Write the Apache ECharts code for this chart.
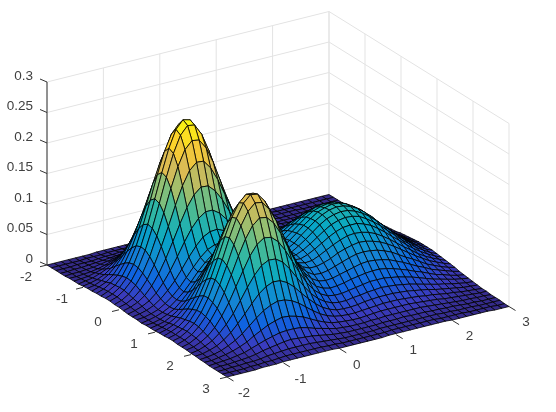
<!DOCTYPE html>
<html><head><meta charset="utf-8">
<script src="https://cdn.jsdelivr.net/npm/echarts@6/dist/echarts.min.js"></script>
<style>html,body{margin:0;padding:0;background:#fff}#chart{width:556px;height:412px}</style>
</head><body><div id="chart"></div>
<script>
// tick labels
var xTicks = [-2, -1, 0, 1, 2, 3];
var yTicks = [-2, -1, 0, 1, 2, 3];
var zTicks = ['0', '0.05', '0.1', '0.15', '0.2', '0.25', '0.3'];

// surface heights, in thousandths
// one row per y (-2 to 3), one column per x (-2 to 3), step 0.125
var zRows = [
[0,0,0,0,0,0,0,1,1,1,1,1,1,1,1,1,1,0,0,0,0,0,0,0,0,0,0,0,0,0,0,0,0,0,0,0,0,0,0,0,0],
[0,0,0,0,0,1,1,1,2,2,2,2,2,2,2,1,1,1,1,1,1,1,1,1,1,1,1,1,1,1,1,1,0,0,0,0,0,0,0,0,0],
[0,0,0,1,1,1,2,3,3,4,4,5,4,4,4,3,2,2,1,1,1,1,1,1,1,1,1,1,1,1,1,1,1,1,1,0,0,0,0,0,0],
[0,0,1,1,2,3,4,5,6,8,9,9,9,8,7,6,5,4,3,2,2,2,1,1,2,2,2,2,2,2,2,1,1,1,1,1,1,1,0,0,0],
[0,1,1,2,3,5,7,9,12,14,16,17,17,16,14,11,9,7,5,4,3,2,2,2,2,3,3,3,3,3,2,2,2,2,1,1,1,1,1,0,0],
[1,1,2,3,5,8,12,17,21,25,28,30,29,27,24,20,15,12,8,6,5,4,4,4,4,4,4,4,4,4,4,3,3,3,2,2,2,1,1,1,1],
[1,2,3,6,9,14,20,27,35,42,47,49,49,45,39,32,25,19,14,10,7,6,6,5,6,6,6,6,6,6,5,5,5,4,3,3,2,2,1,1,1],
[1,3,5,9,14,22,31,42,54,64,72,76,75,70,61,50,39,29,21,15,11,9,8,8,8,8,9,9,9,8,8,7,7,6,5,4,3,3,2,1,1],
[2,4,7,12,20,31,45,61,78,93,105,110,109,101,88,73,56,42,30,22,16,13,12,11,11,12,12,12,12,12,11,10,9,8,7,6,5,4,3,2,2],
[3,5,10,17,28,42,61,83,106,126,142,149,147,137,120,98,77,57,41,30,22,18,16,15,16,16,17,17,17,16,15,14,13,11,9,8,6,5,4,3,2],
[3,7,12,21,35,54,78,106,135,161,181,190,188,175,153,126,98,73,53,38,29,23,21,21,21,22,23,23,23,22,21,19,17,15,13,10,8,7,5,4,3],
[4,8,15,25,42,64,93,126,161,192,216,227,224,208,182,150,117,88,64,47,35,29,27,27,28,29,30,30,30,29,27,25,22,19,17,14,11,9,7,5,4],
[4,9,16,28,47,72,104,141,180,215,241,254,251,233,204,168,132,99,73,54,42,36,34,34,35,37,38,38,38,37,35,32,29,25,21,18,14,11,9,6,5],
[5,9,17,30,49,75,109,148,188,225,253,266,263,245,215,177,140,106,79,60,48,42,41,41,43,46,47,48,47,46,43,40,36,31,26,22,18,14,11,8,6],
[5,9,17,29,48,74,107,145,185,221,248,261,259,241,212,176,139,107,81,64,53,48,48,50,53,55,58,58,58,56,53,48,43,38,32,27,22,17,13,10,7],
[4,8,15,27,44,68,99,134,171,204,229,241,239,223,197,164,132,103,80,65,57,54,55,58,62,66,68,69,69,66,63,58,52,45,38,32,26,20,16,12,8],
[4,7,13,23,38,59,86,116,148,177,199,210,209,195,173,146,118,94,76,65,60,59,62,67,72,76,79,81,80,77,73,67,60,52,44,37,30,23,18,13,10],
[3,6,11,19,32,49,71,96,122,146,164,174,173,162,145,123,102,84,71,64,62,64,69,75,81,86,90,91,90,87,82,76,68,59,50,42,34,27,20,15,11],
[2,5,9,15,25,39,56,76,97,116,130,138,138,130,117,102,86,74,66,63,64,68,75,82,89,95,99,101,100,97,91,84,75,65,56,46,37,29,23,17,12],
[2,4,7,12,20,31,44,60,77,92,104,110,111,106,96,85,74,66,62,62,65,72,80,88,96,102,107,109,108,104,98,90,81,71,60,50,40,32,24,18,13],
[2,3,6,10,17,26,37,51,65,78,88,93,94,90,83,75,67,62,60,62,67,74,83,92,101,108,112,114,114,110,103,95,85,74,63,52,42,33,26,19,14],
[1,3,6,10,16,25,35,48,62,74,84,89,90,86,80,72,65,61,60,62,68,76,85,95,103,111,115,118,117,113,106,98,87,76,65,54,44,34,26,20,14],
[2,3,6,11,17,27,39,53,67,81,91,97,98,94,86,78,69,64,62,64,69,76,86,95,104,111,116,118,117,113,107,98,88,76,65,54,44,34,26,20,14],
[2,4,7,13,21,32,47,63,81,97,109,116,117,111,101,89,78,70,66,66,69,76,84,93,102,109,113,115,114,110,104,96,86,75,64,53,43,34,26,19,14],
[2,5,9,16,26,40,57,78,99,119,134,142,142,134,121,105,90,78,70,67,69,74,81,89,97,104,108,110,109,106,99,91,82,71,61,50,41,32,25,18,13],
[3,6,11,19,31,47,69,93,119,142,160,169,169,159,142,122,102,85,74,68,67,71,77,84,91,97,101,102,102,98,93,85,76,66,57,47,38,30,23,17,12],
[3,7,12,21,35,54,78,106,136,162,182,193,192,180,160,136,112,91,76,68,65,66,71,77,83,88,92,93,92,89,84,77,69,60,51,43,34,27,21,16,11],
[4,7,13,23,38,59,85,115,147,176,197,208,207,194,172,145,118,94,77,66,61,61,64,68,74,78,81,83,82,79,75,69,62,54,46,38,31,24,19,14,10],
[4,7,14,24,39,60,87,117,150,179,201,212,210,196,174,146,117,93,74,62,55,54,56,60,64,68,71,72,71,69,65,60,53,46,40,33,26,21,16,12,9],
[3,7,13,23,37,57,83,112,143,171,192,203,201,187,165,138,111,87,68,56,49,47,48,51,54,57,60,61,60,58,55,50,45,39,33,28,22,18,14,10,7],
[3,6,12,20,34,52,75,101,129,154,173,183,181,169,149,124,99,77,60,48,42,39,40,42,45,47,49,50,50,48,45,41,37,32,28,23,18,15,11,8,6],
[3,5,10,17,28,44,63,86,109,131,147,155,153,143,126,105,84,65,50,40,34,32,32,34,36,38,40,40,40,38,36,33,30,26,22,18,15,12,9,7,5],
[2,4,8,14,23,35,50,68,87,104,117,123,122,114,100,83,66,51,40,32,27,25,25,27,28,30,31,32,31,30,28,26,23,20,17,14,12,9,7,5,4],
[2,3,6,10,17,26,38,51,65,78,87,92,91,85,75,62,50,39,30,24,20,19,19,20,22,23,24,24,24,23,22,20,18,16,13,11,9,7,5,4,3],
[1,2,4,7,12,18,26,36,46,55,61,65,64,60,53,44,35,27,21,17,15,14,14,15,16,17,18,18,18,17,16,15,13,12,10,8,7,5,4,3,2],
[1,1,3,5,8,12,17,24,30,36,40,43,42,39,35,29,23,18,14,12,11,10,10,11,12,13,13,13,13,13,12,11,10,9,7,6,5,4,3,2,2],
[0,1,2,3,5,7,11,15,19,22,25,26,26,25,22,18,15,12,9,8,7,7,7,8,8,9,9,9,9,9,9,8,7,6,5,4,3,3,2,2,1],
[0,1,1,2,3,4,6,9,11,13,15,16,15,14,13,11,9,7,6,5,5,5,5,5,6,6,6,7,6,6,6,5,5,4,4,3,2,2,1,1,1],
[0,0,1,1,2,2,3,5,6,7,8,8,8,8,7,6,5,4,3,3,3,3,3,4,4,4,4,4,4,4,4,4,3,3,2,2,2,1,1,1,1],
[0,0,0,0,1,1,2,2,3,4,4,4,4,4,4,3,3,2,2,2,2,2,2,2,3,3,3,3,3,3,3,2,2,2,2,1,1,1,1,0,0],
[0,0,0,0,0,1,1,1,2,2,2,2,2,2,2,2,1,1,1,1,1,1,1,2,2,2,2,2,2,2,2,2,1,1,1,1,1,1,0,0,0]
];

// parula-like colour ramp
var colorStops = [0, .05, .14, .25, .375, .5, .625, .75, .875, 1];
var colorRamp = ['#352a87', '#3a3cc0', '#0f62e0', '#1485d4', '#06a7c6', '#38b99e', '#92bf73', '#d9ba56', '#fcce2e', '#f9fb0e'];

var N = zRows.length;
var ZMAX = 0.266;

// orthographic view, fitted to the corners of the box
function project(x, y, z) {
  return [47 + (x + 2) / 5 * 282 + (y + 2) / 5 * 180,
          265 - (x + 2) / 5 * 70.5 + (y + 2) / 5 * 112 - z / 0.3 * 183];
}

function hex(c) {
  return [parseInt(c.substr(1, 2), 16), parseInt(c.substr(3, 2), 16), parseInt(c.substr(5, 2), 16)];
}

function colorOf(z) {
  var t = Math.min(1, z / ZMAX), k = 0;
  while (k < colorStops.length - 2 && t > colorStops[k + 1]) k++;
  var f = (t - colorStops[k]) / (colorStops[k + 1] - colorStops[k]);
  var a = hex(colorRamp[k]), b = hex(colorRamp[k + 1]);
  return 'rgb(' + Math.round(a[0] + (b[0] - a[0]) * f) + ',' +
    Math.round(a[1] + (b[1] - a[1]) * f) + ',' + Math.round(a[2] + (b[2] - a[2]) * f) + ')';
}

// far cells first so nearer ones paint over them
var cells = [];
for (var j = 0; j < N - 1; j++) {
  for (var i = N - 2; i >= 0; i--) cells.push([i, j]);
}

var chart = echarts.init(document.getElementById('chart'), null, { renderer: 'canvas' });

function line(api, a, b, st) {
  var p = api.coord(a), q = api.coord(b);
  return { type: 'line', shape: { x1: p[0], y1: p[1], x2: q[0], y2: q[1] }, style: st };
}

function wallItems(api) {
  var st = { stroke: '#e3e3e3', lineWidth: 1 }, c = [];
  xTicks.forEach(function (x) { c.push(line(api, project(x, -2, 0), project(x, -2, .3), st)); });
  yTicks.forEach(function (y) { c.push(line(api, project(3, y, 0), project(3, y, .3), st)); });
  zTicks.forEach(function (zs) {
    var z = +zs;
    c.push(line(api, project(-2, -2, z), project(3, -2, z), st));
    c.push(line(api, project(3, -2, z), project(3, 3, z), st));
  });
  return c;
}

function axisItems(api) {
  var st = { stroke: '#333', lineWidth: 1 }, c = [];
  var tx = { fill: '#404040', fontSize: 13.5, fontFamily: 'Liberation Sans' };
  function text(p, s, al) {
    var q = api.coord(p);
    return { type: 'text', x: q[0], y: q[1], style: Object.assign({ text: s, align: al, verticalAlign: 'middle' }, tx) };
  }
  c.push(line(api, project(-2, -2, 0), project(-2, -2, .3), st));
  zTicks.forEach(function (zs) {
    var p = project(-2, -2, +zs);
    c.push(line(api, p, [p[0] - 7, p[1] - 3], st));
    c.push(text([33, p[1] - 6], zs, 'right'));
  });
  xTicks.forEach(function (x) {
    var p = project(x, 3, 0);
    c.push(line(api, p, [p[0] + 6.5, p[1] + 4], st));
    c.push(text([p[0] + 17, p[1] + 16], String(x), 'center'));
  });
  yTicks.forEach(function (y) {
    var p = project(-2, y, 0);
    c.push(line(api, p, [p[0] - 7, p[1] + 1.7], st));
    c.push(text([p[0] - 21, p[1] + 12], String(y), 'center'));
  });
  return c;
}

chart.setOption({
  animation: false,
  grid: { left: 0, right: 0, top: 0, bottom: 0 },
  xAxis: { type: 'value', min: 0, max: 556, show: false },
  yAxis: { type: 'value', min: 0, max: 412, inverse: true, show: false },
  series: [
    { type: 'custom', coordinateSystem: 'cartesian2d', data: [[0, 0]], silent: true, z: 1,
      renderItem: function (p, api) { return { type: 'group', children: wallItems(api) }; } },
    { type: 'custom', coordinateSystem: 'cartesian2d', data: cells, silent: true, progressive: 0, z: 2,
      renderItem: function (p, api) {
        var i = api.value(0), j = api.value(1);
        function v(a, b) { return api.coord(project(-2 + a * .125, -2 + b * .125, zRows[b][a] / 1000)); }
        var mean = (zRows[j][i] + zRows[j][i + 1] + zRows[j + 1][i] + zRows[j + 1][i + 1]) / 4000;
        return { type: 'polygon', shape: { points: [v(i, j), v(i + 1, j), v(i + 1, j + 1), v(i, j + 1)] },
          style: { fill: colorOf(mean), stroke: '#000', lineWidth: .8 } };
      } },
    { type: 'custom', coordinateSystem: 'cartesian2d', data: [[0, 0]], silent: true, z: 3,
      renderItem: function (p, api) { return { type: 'group', children: axisItems(api) }; } }
  ]
});
</script></body></html>
